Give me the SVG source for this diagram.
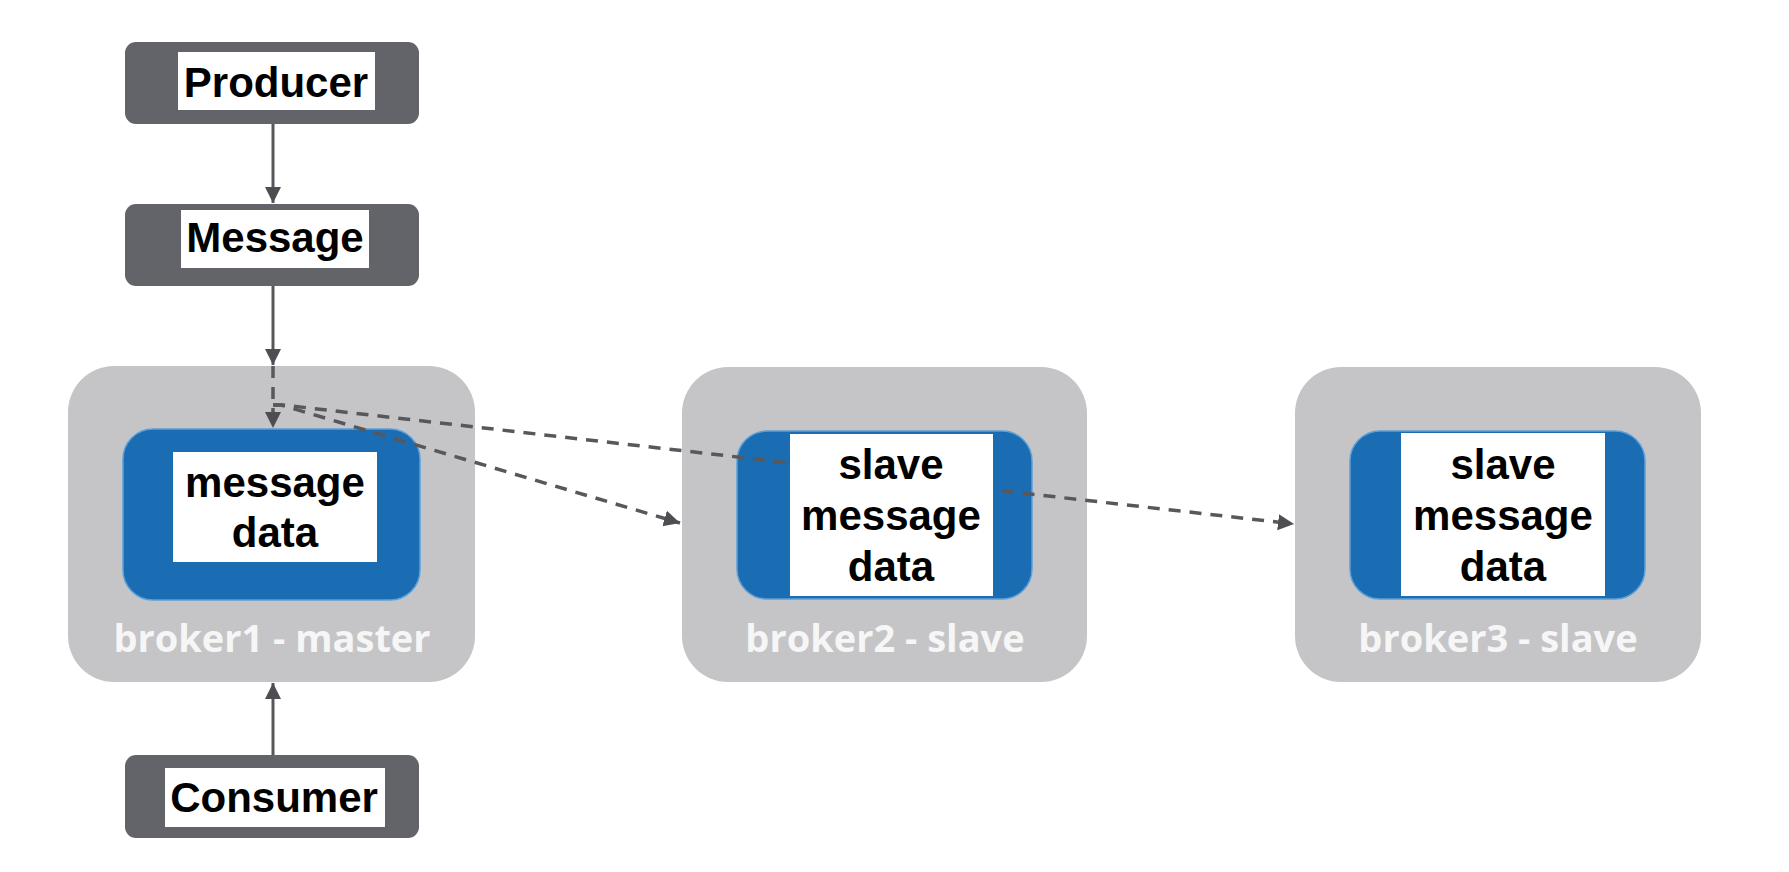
<svg xmlns="http://www.w3.org/2000/svg" width="1789" height="872" viewBox="0 0 1789 872">
  <style>
    .dark { fill: #636469; }
    .broker { fill: #c5c5c7; }
    .inner { fill: #1a6db3; stroke: #5d9fd8; stroke-width: 1.5; }
    .lbl { fill: #ffffff; }
    .t { font-family: "Liberation Sans", Arial, sans-serif; font-weight: bold; font-size: 42px; fill: #000000; text-anchor: middle; }
    .bt { font-family: "Open Sans", "Noto Sans", sans-serif; font-weight: bold; font-size: 38px; fill: #f6f6f6; text-anchor: middle; }
    .solid { fill: none; stroke: #58585c; stroke-width: 3; }
    .dash { fill: none; stroke: #58585c; stroke-width: 3.5; stroke-dasharray: 12 9; }
  </style>
  <defs>
    <marker id="arr" markerUnits="userSpaceOnUse" markerWidth="18" markerHeight="18" refX="16" refY="9" orient="auto">
      <path d="M0,1 L16,9 L0,17 z" fill="#4e4e52"/>
    </marker>
  </defs>
  <rect width="1789" height="872" fill="#ffffff"/>

  <g id="producer">
    <rect class="dark" x="125" y="42" width="294" height="82" rx="11"/>
    <rect class="lbl" x="178" y="52" width="197" height="58"/>
    <text class="t" x="276" y="97">Producer</text>
  </g>
  <g id="message">
    <rect class="dark" x="125" y="204" width="294" height="82" rx="11"/>
    <rect class="lbl" x="181" y="210" width="188" height="58"/>
    <text class="t" x="275" y="252">Message</text>
  </g>
  <g id="consumer">
    <rect class="dark" x="125" y="755" width="294" height="83" rx="11"/>
    <rect class="lbl" x="165" y="768" width="220" height="59"/>
    <text class="t" x="274" y="812">Consumer</text>
  </g>

  <g id="broker1">
    <rect class="broker" x="68" y="366" width="407" height="316" rx="46"/>
    <rect class="inner" x="123" y="429" width="297" height="171" rx="30"/>
    <text class="bt" x="272" y="652">broker1 - master</text>
  </g>
  <g id="broker2">
    <rect class="broker" x="682" y="367" width="405" height="315" rx="46"/>
    <rect class="inner" x="737" y="431" width="295" height="168" rx="30"/>
    <text class="bt" x="885" y="652">broker2 - slave</text>
  </g>
  <g id="broker3">
    <rect class="broker" x="1295" y="367" width="406" height="315" rx="46"/>
    <rect class="inner" x="1350" y="431" width="295" height="168" rx="30"/>
    <text class="bt" x="1498" y="652">broker3 - slave</text>
  </g>

  <g id="connectors">
    <path class="solid" d="M273,124 V203" marker-end="url(#arr)"/>
    <path class="solid" d="M273,286 V365" marker-end="url(#arr)"/>
    <path class="solid" d="M273,755 V683" marker-end="url(#arr)"/>
    <path class="dash" d="M273,366 V428" marker-end="url(#arr)"/>
    <path class="dash" d="M273,405 H283 L790,463"/>
    <path class="dash" d="M273,405 H281 L680,523" marker-end="url(#arr)"/>
    <path class="dash" d="M960,486 L1294,524" marker-end="url(#arr)"/>
  </g>

  <g id="broker1-data">
    <rect class="lbl" x="173" y="452" width="204" height="110"/>
    <text class="t" x="275" y="497">message</text>
    <text class="t" x="275" y="547">data</text>
  </g>
  <g id="broker2-data">
    <rect class="lbl" x="790" y="434" width="203" height="162"/>
    <text class="t" x="891" y="479">slave</text>
    <text class="t" x="891" y="530">message</text>
    <text class="t" x="891" y="581">data</text>
  </g>
  <g id="broker3-data">
    <rect class="lbl" x="1401" y="433" width="204" height="163"/>
    <text class="t" x="1503" y="479">slave</text>
    <text class="t" x="1503" y="530">message</text>
    <text class="t" x="1503" y="581">data</text>
  </g>
</svg>
